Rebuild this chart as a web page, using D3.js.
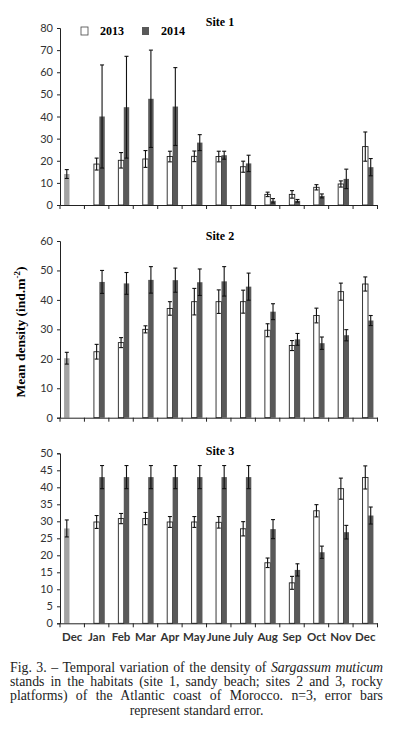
<!DOCTYPE html>
<html>
<head>
<meta charset="utf-8">
<script src="https://cdn.jsdelivr.net/npm/d3@7"></script>
<style>
  body { margin: 0; background: #fff; }
  #chart { position: relative; width: 393px; height: 744px; }
  .axis text { font-family: Lato, "Liberation Sans", sans-serif; fill: #333; }
  .caption {
    position: absolute; left: 10px; top: 661px; width: 373px;
    font-family: "Liberation Serif", "Times New Roman", serif;
    font-size: 13.8px; line-height: 14.2px; text-align: justify;
    text-align-last: center; color: #222;
  }
</style>
</head>
<body>
<div id="chart"></div>
<script>
const monthKeys = ['Dec0', 'Jan', 'Feb', 'Mar', 'Apr', 'May', 'June', 'July', 'Aug', 'Sep', 'Oct', 'Nov', 'Dec'];
const monthLabels = ['Dec', 'Jan', 'Feb', 'Mar', 'Apr', 'May', 'June', 'July', 'Aug', 'Sep', 'Oct', 'Nov', 'Dec'];
const seriesKeys = ['2012', '2013', '2014'];

// December 2012 single value per site (gray bar)
const dec2012 = [14, 20.2, 27.9];
const dec2012Se = [2, 2, 2.5];

// Jan..Dec values
const site1_2013 = [18.5, 20.2, 20.8, 21.9, 22, 21.9, 17.3, 4.8, 4.8, 8, 9.5, 26.4];
const site1_2013Se = [2.7, 3.5, 3.8, 2.4, 2.4, 2.4, 2.5, 1, 1.7, 1.2, 1.4, 6.6];
const site1_2014 = [40, 44.2, 48, 44.5, 28.2, 22.5, 18.8, 1.9, 1.9, 4.1, 11.8, 17.1];
const site1_2014Se = [23.3, 23, 22, 17.6, 3.6, 1.8, 3.7, 1, 0.6, 0.9, 4.4, 3.9];

const site2_2013 = [22.4, 25.5, 30, 37.1, 39.4, 39.4, 39.4, 29.7, 24.5, 34.7, 42.8, 45.4];
const site2_2013Se = [2.5, 1.7, 1.2, 2.3, 4.5, 4, 3.9, 2.2, 1.7, 2.5, 2.9, 2.4];
const site2_2014 = [46.1, 45.6, 46.8, 46.7, 46, 46.3, 44.5, 36, 26.6, 25.3, 28, 33];
const site2_2014Se = [3.9, 3.7, 4.5, 4.1, 4.5, 5, 4.6, 2.7, 2, 2.1, 1.9, 1.7];

const site3_2013 = [29.8, 30.8, 30.8, 29.8, 29.8, 29.7, 27.8, 17.8, 11.9, 33.1, 39.6, 42.9];
const site3_2013Se = [1.9, 1.5, 1.8, 1.6, 1.6, 1.7, 2.1, 1.4, 1.9, 1.8, 3.1, 3.4];
const site3_2014 = [43, 43, 43, 43, 43, 43, 43, 27.7, 15.7, 20.9, 26.8, 31.7];
const site3_2014Se = [3.4, 3.4, 3.4, 3.4, 3.4, 3.4, 3.4, 2.8, 1.8, 1.8, 2, 2.5];

const siteTitles = ['Site 1', 'Site 2', 'Site 3'];
const yMax = [80, 60, 50];
const yStep = [10, 10, 5];

const W = 393, H = 744;
const panels = [
  { bottom: 205, top: 28, titleY: 26 },
  { bottom: 417.7, top: 241, titleY: 240 },
  { bottom: 623.3, top: 453.3, titleY: 455 }
];
const COLORS = { '2012': '#a3a3a3', '2013': '#ffffff', '2014': '#595959' };

const svg = d3.select('#chart').append('svg')
  .attr('width', W).attr('height', H)
  .style('position', 'absolute').style('left', 0).style('top', 0);

const x = d3.scaleBand().domain(monthKeys).range([60, 377.5]);
const xInner = d3.scaleBand().domain(seriesKeys).range([0, x.bandwidth()])
  .paddingInner(0).paddingOuter(0.75);

const siteData = [
  [site1_2013, site1_2013Se, site1_2014, site1_2014Se],
  [site2_2013, site2_2013Se, site2_2014, site2_2014Se],
  [site3_2013, site3_2013Se, site3_2014, site3_2014Se]
];

siteData.forEach((sd, i) => {
  const p = panels[i];
  const y = d3.scaleLinear().domain([0, yMax[i]]).range([p.bottom, p.top]);
  const g = svg.append('g');

  const rows = [{ month: 'Dec0', series: '2012', value: dec2012[i], se: dec2012Se[i] }];
  monthKeys.slice(1).forEach((m, j) => {
    rows.push({ month: m, series: '2013', value: sd[0][j], se: sd[1][j] });
    rows.push({ month: m, series: '2014', value: sd[2][j], se: sd[3][j] });
  });

  // bars
  g.selectAll('rect.bar').data(rows).enter().append('rect')
    .attr('class', 'bar')
    .attr('x', d => x(d.month) + xInner(d.series))
    .attr('y', d => y(d.value))
    .attr('width', xInner.bandwidth())
    .attr('height', d => y(0) - y(d.value))
    .attr('fill', d => COLORS[d.series])
    .attr('stroke', d => d.series === '2013' ? '#222' : 'none')
    .attr('stroke-width', 0.9);

  // error bars
  const eb = g.selectAll('g.err').data(rows).enter().append('g')
    .attr('class', 'err')
    .attr('transform', d => `translate(${x(d.month) + xInner(d.series) + xInner.bandwidth() / 2},0)`);
  eb.append('line')
    .attr('y1', d => y(d.value - d.se)).attr('y2', d => y(d.value + d.se))
    .attr('stroke', '#111').attr('stroke-width', 1.1);
  eb.append('line')
    .attr('x1', -2).attr('x2', 2)
    .attr('y1', d => y(d.value + d.se)).attr('y2', d => y(d.value + d.se))
    .attr('stroke', '#111').attr('stroke-width', 1.1);
  eb.append('line')
    .attr('x1', -2).attr('x2', 2)
    .attr('y1', d => y(d.value - d.se)).attr('y2', d => y(d.value - d.se))
    .attr('stroke', '#111').attr('stroke-width', 1.1);

  // y axis
  const yAxis = g.append('g').attr('class', 'axis')
    .attr('transform', 'translate(60,0)')
    .call(d3.axisLeft(y).tickValues(d3.range(0, yMax[i] + 0.01, yStep[i])).tickSize(3).tickPadding(4));
  yAxis.select('.domain').attr('stroke', '#222');
  yAxis.selectAll('.tick line').attr('stroke', '#222');
  yAxis.selectAll('text').style('font-size', '11px');

  // x axis line and boundary ticks
  const xAxis = g.append('g').attr('class', 'axis')
    .attr('transform', `translate(0,${p.bottom})`)
    .call(d3.axisBottom(x).tickSize(0).tickPadding(10)
      .tickFormat((d, k) => i === 2 ? monthLabels[k] : ''));
  xAxis.select('.domain').attr('stroke', '#222');
  xAxis.selectAll('text').style('font-size', '11.5px').style('font-weight', 'bold');
  const bounds = monthKeys.map(m => x(m)).concat([x.range()[1]]);
  xAxis.selectAll('line.bt').data(bounds).enter().append('line')
    .attr('class', 'bt')
    .attr('x1', d => d).attr('x2', d => d)
    .attr('y1', 0).attr('y2', 4)
    .attr('stroke', '#222');

  // site title
  svg.append('text')
    .attr('x', 220).attr('y', p.titleY)
    .attr('text-anchor', 'middle')
    .style('font-family', '"Liberation Serif", serif')
    .style('font-weight', 'bold').style('font-size', '12px')
    .text(siteTitles[i]);
});

// legend
const legendItems = [
  { key: '2013', x: 81 },
  { key: '2014', x: 142 }
];
const lg = svg.append('g').selectAll('g').data(legendItems).enter().append('g')
  .attr('transform', d => `translate(${d.x},27)`);
lg.append('rect')
  .attr('width', 7).attr('height', 8)
  .attr('fill', d => COLORS[d.key])
  .attr('stroke', d => d.key === '2013' ? '#444' : 'none')
  .attr('stroke-width', 0.8);
lg.append('text')
  .attr('x', 19).attr('y', 8)
  .style('font-family', '"Liberation Serif", serif')
  .style('font-weight', 'bold').style('font-size', '12px')
  .text(d => d.key);

// y label
const yl = svg.append('text')
  .attr('transform', 'translate(25,332) rotate(-90)')
  .attr('text-anchor', 'middle')
  .style('font-family', '"Liberation Serif", serif')
  .style('font-weight', 'bold').style('font-size', '13.5px');
yl.append('tspan').text('Mean density (ind.m');
yl.append('tspan').attr('dy', -5).style('font-size', '9px').text('-2');
yl.append('tspan').attr('dy', 5).text(')');

// caption
d3.select('#chart').append('div').attr('class', 'caption')
  .html('Fig. 3. – Temporal variation of the density of <i>Sargassum muticum</i> stands in the habitats (site 1, sandy beach; sites 2 and 3, rocky platforms) of the Atlantic coast of Morocco. n=3, error bars represent standard error.');
</script>
</body>
</html>
